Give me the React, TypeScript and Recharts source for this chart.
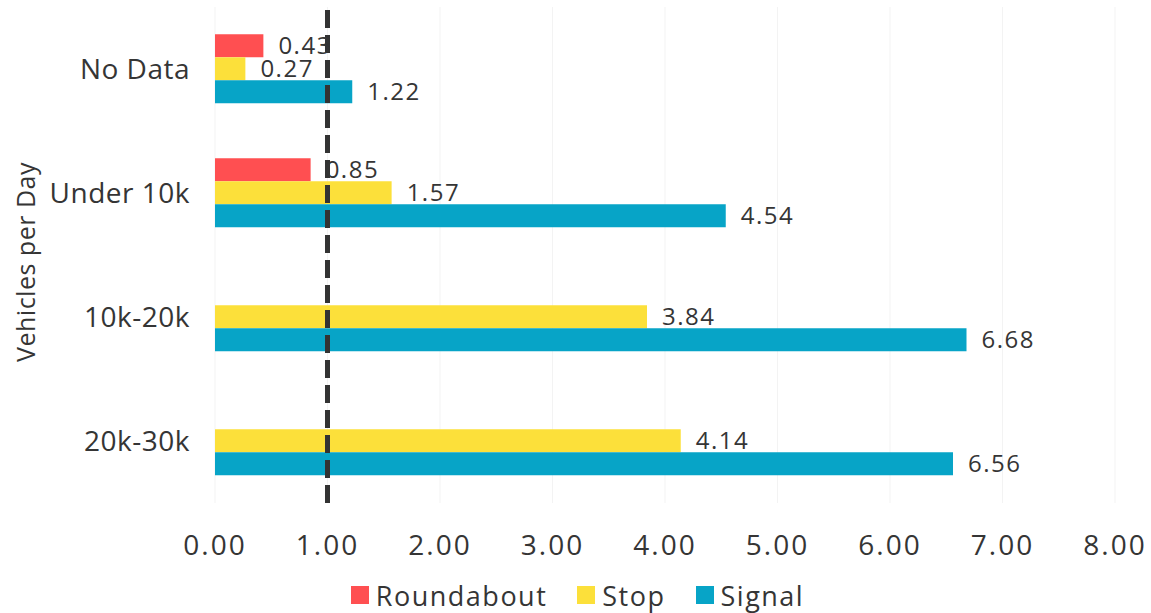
import { BarChart, Bar, XAxis, YAxis, CartesianGrid, ReferenceLine, Legend, LabelList } from "recharts";

const categories = ["No Data", "Under 10k", "10k-20k", "20k-30k"];
const roundabout = [0.43, 0.85, null, null];
const stop = [0.27, 1.57, 3.84, 4.14];
const signal = [1.22, 4.54, 6.68, 6.56];
const xTicks = [0, 1, 2, 3, 4, 5, 6, 7, 8];

const SERIES = [
    { key: "Roundabout", color: "#FF4F51" },
    { key: "Stop", color: "#FCE03A" },
    { key: "Signal", color: "#07A4C7" },
];

const data = categories.map((cat, i) => ({
    cat,
    Roundabout: roundabout[i],
    Stop: stop[i],
    Signal: signal[i],
}));

const FONT = "'Open Sans', sans-serif";
const TEXT = "#353535";

const fmt = (v: any) => (v === null || v === undefined ? "" : Number(v).toFixed(2));

function LegendContent() {
    return (
        <div style={{ display: "flex", justifyContent: "center", alignItems: "center", height: 36, fontFamily: FONT, fontSize: 27, color: TEXT, letterSpacing: 1.5, paddingLeft: 40 }}>
            {SERIES.map((s, i) => (
                <div key={s.key} style={{ display: "flex", alignItems: "center", marginLeft: i === 0 ? 0 : 30 }}>
                    <span style={{ display: "inline-block", width: 18, height: 18, background: s.color, marginRight: 7 }} />
                    <span>{s.key}</span>
                </div>
            ))}
        </div>
    );
}

export default function App() {
    return (
        <div style={{ position: "absolute", left: 0, top: 0, background: "#fff" }}>
            <BarChart
                width={1151}
                height={613}
                data={data}
                layout="vertical"
                margin={{ top: 7, right: 36, bottom: 0, left: 0 }}
                barCategoryGap="22%"
                barGap={0}
            >
                <CartesianGrid horizontal={false} stroke="#f3f3f3" />
                <XAxis
                    type="number"
                    domain={[0, 8]}
                    ticks={xTicks}
                    tickFormatter={(v: number) => v.toFixed(2)}
                    axisLine={false}
                    tickLine={false}
                    tickMargin={26}
                    height={74}
                    tick={{ fontSize: 28, fill: TEXT, fontFamily: FONT, letterSpacing: 2 }}
                />
                <YAxis
                    type="category"
                    dataKey="cat"
                    width={215}
                    axisLine={false}
                    tickLine={false}
                    tickMargin={19}
                    tick={{ fontSize: 28, fill: TEXT, fontFamily: FONT, letterSpacing: 0.5 }}
                    label={{
                        content: () => (
                            <text
                                x={25}
                                y={262}
                                transform="rotate(-90 25 262)"
                                textAnchor="middle"
                                dominantBaseline="central"
                                fontSize={25}
                                fill={TEXT}
                                fontFamily={FONT}
                                letterSpacing={0.5}
                            >
                                Vehicles per Day
                            </text>
                        ),
                    }}
                />
                {SERIES.map((s) => (
                    <Bar key={s.key} dataKey={s.key} fill={s.color} isAnimationActive={false}>
                        <LabelList
                            dataKey={s.key}
                            position="right"
                            offset={15}
                            formatter={fmt}
                            style={{ fontSize: 24, fill: TEXT, fontFamily: FONT, letterSpacing: 1.5 }}
                        />
                    </Bar>
                ))}
                <ReferenceLine x={1} stroke="#333" strokeWidth={5} strokeDasharray="18 7" ifOverflow="extendDomain" />
                <Legend verticalAlign="bottom" content={<LegendContent />} />
            </BarChart>
        </div>
    );
}
